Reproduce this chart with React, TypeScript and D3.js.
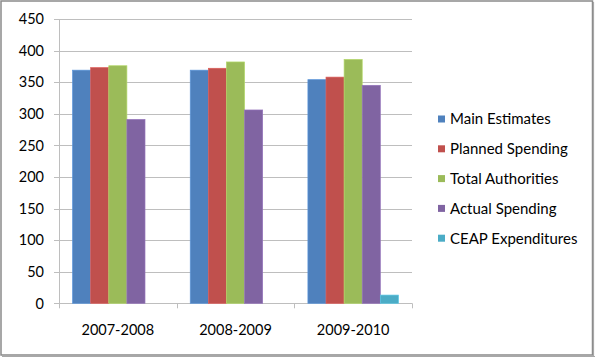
import React from "react";
import * as d3 from "d3";

const categories = ["2007-2008", "2008-2009", "2009-2010"];
const seriesNames = ["Main Estimates", "Planned Spending", "Total Authorities", "Actual Spending", "CEAP Expenditures"];
const mainEstimates = [369, 369, 354];
const plannedSpending = [373, 372, 358];
const totalAuthorities = [376, 382, 386];
const actualSpending = [291, 306, 345];
const ceapExpenditures = [0, 0, 13];
const yTicks = [0, 50, 100, 150, 200, 250, 300, 350, 400, 450];
const colors = ["#4F81BD", "#C0504D", "#9BBB59", "#8064A2", "#4BACC6"];

const W = 595, H = 357;
const left = 59, right = 412, top = 19, bottom = 303.3;
const font = "Lato, 'Open Sans', sans-serif";

export default function App() {
  const series = [mainEstimates, plannedSpending, totalAuthorities, actualSpending, ceapExpenditures];
  const x = d3.scaleBand().domain(categories).range([left, right]).paddingInner(0).paddingOuter(0);
  const y = d3.scaleLinear().domain([0, 450]).range([bottom, top]);
  const bw = x.bandwidth();
  const barW = bw / (5 + 1.5);
  const gap = (bw - barW * 5) / 2;
  const xi = d3.scaleBand().domain(seriesNames).range([gap, gap + barW * 5]).padding(0);

  return (
    <div style={{ position: "absolute", left: 0, top: 0 }}>
      <svg width={W} height={H} style={{ display: "block" }}>
        <rect x={0} y={0} width={W} height={H} fill="#fff" />
        {yTicks.map((t) => (
          <g key={t}>
            <line x1={left - 5} x2={right} y1={Math.round(y(t)) + 0.5} y2={Math.round(y(t)) + 0.5} stroke="#bebebe" strokeWidth={1} />
            <text x={44} y={y(t)} dy="0.36em" textAnchor="end" fontFamily={font} fontSize={14.5} fill="#000">{t}</text>
          </g>
        ))}
        <line x1={left + 0.5} x2={left + 0.5} y1={top} y2={bottom} stroke="#bebebe" />
        {[...categories.map((c) => x(c)!), right].map((v, i) => (
          <line key={i} x1={Math.round(v) + 0.5} x2={Math.round(v) + 0.5} y1={bottom} y2={bottom + 5} stroke="#bebebe" />
        ))}
        {series.map((vals, si) =>
          vals.map((v, ci) =>
            v > 0 ? (
              <rect
                key={si + "-" + ci}
                x={x(categories[ci])! + xi(seriesNames[si])!}
                y={y(v)}
                width={barW}
                height={y(0) - y(v)}
                fill={colors[si]}
                stroke={d3.color(colors[si])!.brighter(0.4).toString()}
                strokeWidth={0.7}
              />
            ) : null
          )
        )}
        {categories.map((c) => (
          <text key={c} x={x(c)! + bw / 2} y={330} dy="0.36em" textAnchor="middle" fontFamily={font} fontSize={14.5} fill="#000">{c}</text>
        ))}
        {seriesNames.map((s, i) => (
          <g key={s} transform={`translate(438, ${119 + i * 29.8})`}>
            <rect x={0} y={-3.5} width={7} height={7} fill={colors[i]} />
            <text x={12} y={0} dy="0.36em" fontFamily={font} fontSize={15} fill="#000">{s}</text>
          </g>
        ))}
        <rect x={1} y={1} width={591.5} height={354} fill="none" stroke="#8a8a8a" strokeWidth={1.5} />
        <line x1={593.5} x2={593.5} y1={2} y2={357} stroke="#a8a8a8" strokeWidth={1.2} />
        <line x1={2} x2={595} y1={356.5} y2={356.5} stroke="#a8a8a8" strokeWidth={1.2} />
      </svg>
    </div>
  );
}
